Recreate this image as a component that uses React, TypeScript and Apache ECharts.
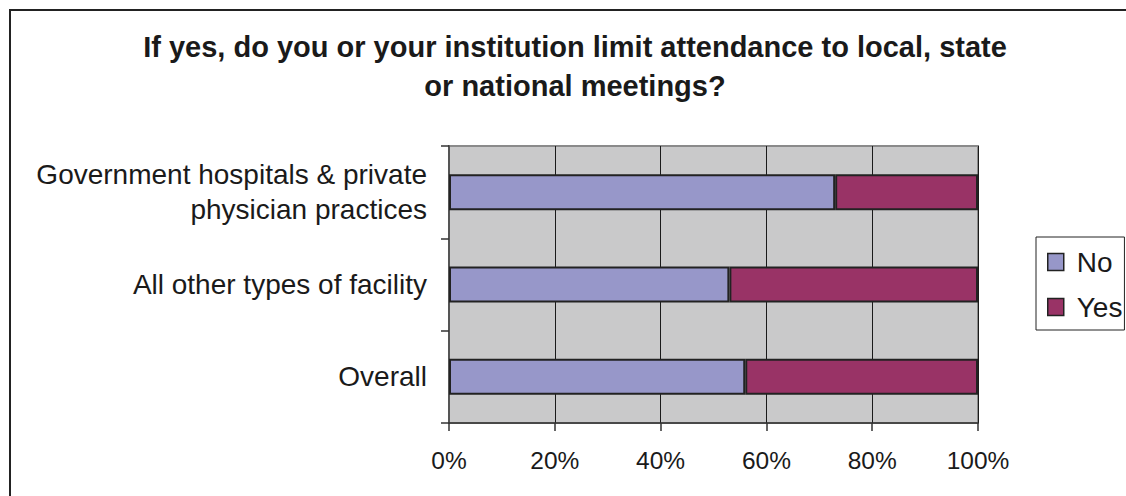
import React, { useEffect, useRef } from "react";
import * as echarts from "echarts";

const titleText =
  "If yes, do you or your institution limit attendance to local, state\nor national meetings?";
const categories = [
  "Government hospitals & private\nphysician practices",
  "All other types of facility",
  "Overall",
];
const noValues = [73, 53, 56];
const yesValues = [27, 47, 44];
const seriesNames = ["No", "Yes"];

const FONT = "'Liberation Sans', Arial, Helvetica, sans-serif";

export default function App() {
  const ref = useRef<HTMLDivElement>(null);
  useEffect(() => {
    document.body.style.margin = "0";
    const chart = echarts.init(ref.current!, null, { renderer: "svg" });
    chart.setOption({
      animation: false,
      backgroundColor: "#ffffff",
      textStyle: { fontFamily: FONT },
      title: {
        text: titleText,
        left: 575,
        textAlign: "center",
        top: 27,
        padding: 0,
        textStyle: {
          fontFamily: FONT,
          fontSize: 29,
          fontWeight: "bold",
          lineHeight: 39,
          color: "#1a1a1a",
        },
      },
      graphic: [
        {
          type: "rect",
          shape: { x: 10, y: 10, width: 1300, height: 700 },
          style: { fill: "none", stroke: "#222", lineWidth: 2 },
          silent: true,
          z: -10,
        },
      ],
      legend: {
        orient: "vertical",
        left: 1036,
        top: 237,
        padding: [11, 2, 9, 11],
        itemGap: 17,
        itemWidth: 16,
        itemHeight: 17,
        itemStyle: { borderColor: "#222", borderWidth: 1.5 },
        borderColor: "#222",
        borderWidth: 1,
        selectedMode: false,
        icon: "rect",
        data: seriesNames,
        textStyle: { fontFamily: FONT, fontSize: 28, color: "#1a1a1a", padding: [0, 0, 0, 8] },
      },
      grid: {
        left: 449,
        right: 148,
        top: 146,
        bottom: 73,
        show: true,
        backgroundColor: "#C9C9CA",
        borderColor: "#8a8a8a",
        borderWidth: 2,
        containLabel: false,
      },
      xAxis: {
        type: "value",
        min: 0,
        max: 100,
        interval: 20,
        axisLine: { show: true, lineStyle: { color: "#333", width: 1.5 } },
        axisTick: { show: true, length: 8, lineStyle: { color: "#333", width: 1.5 } },
        splitLine: { show: true, lineStyle: { color: "#1a1a1a", width: 1 } },
        axisLabel: {
          formatter: "{value}%",
          fontFamily: FONT,
          fontSize: 24.5,
          color: "#1a1a1a",
          margin: 25,
        },
      },
      yAxis: {
        type: "category",
        inverse: true,
        data: categories,
        axisLine: { show: true, lineStyle: { color: "#555", width: 2 } },
        axisTick: { show: true, length: 8, lineStyle: { color: "#333", width: 1.5 } },
        axisLabel: {
          fontFamily: FONT,
          fontSize: 28,
          lineHeight: 35,
          color: "#1a1a1a",
          margin: 22,
          align: "right",
        },
      },
      series: [
        {
          name: seriesNames[0],
          type: "bar",
          stack: "total",
          data: noValues,
          barWidth: 36,
          itemStyle: { color: "#9797C9", borderColor: "#222", borderWidth: 2 },
        },
        {
          name: seriesNames[1],
          type: "bar",
          stack: "total",
          data: yesValues,
          barWidth: 36,
          itemStyle: { color: "#993366", borderColor: "#222", borderWidth: 2 },
        },
      ],
    });
    return () => chart.dispose();
  }, []);
  return <div ref={ref} style={{ width: 1126, height: 496 }} />;
}
